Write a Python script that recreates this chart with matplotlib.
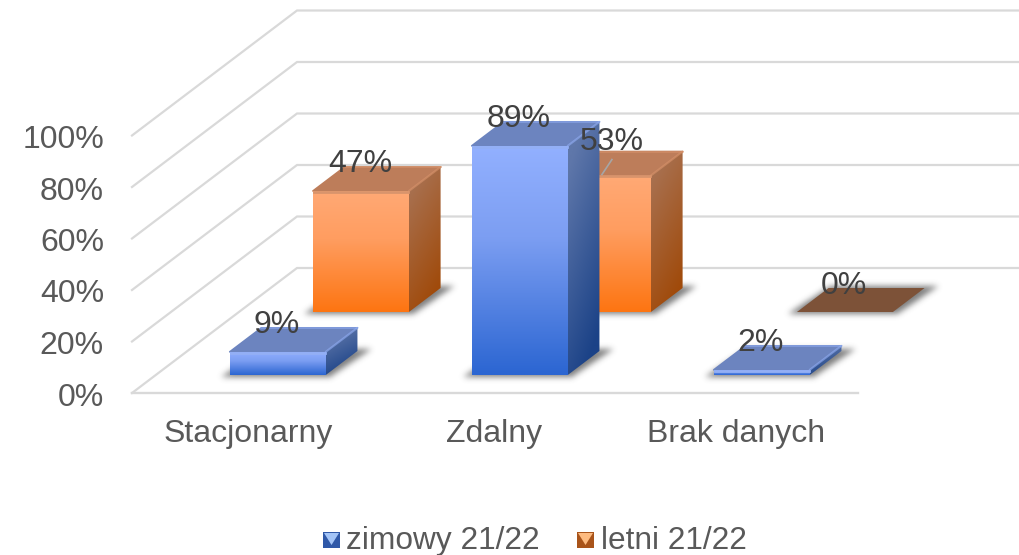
import matplotlib
matplotlib.use('Agg')
import matplotlib.pyplot as plt
from matplotlib.patches import Polygon
from matplotlib.path import Path
import numpy as np

plt.rcParams['font.family'] = ['Liberation Sans', 'DejaVu Sans']

categories = ['Stacjonarny', 'Zdalny', 'Brak danych']
zimowy = [9, 89, 2]
letni = [47, 53, 0]
series_names = ['zimowy 21/22', 'letni 21/22']
y_ticks = [0, 20, 40, 60, 80, 100]

W, H = 1019, 555

# uklad rzutu ukosnego (jak wykres 3D w Excelu), wszystko w pikselach
X0, Y0 = 132, 393
FLOOR_W = 726
DEPTH_X, DEPTH_Y = 165, 125
PX_PER_PCT = 2.575
BAR_W = 96
SLOT = FLOOR_W / len(categories)
DEPTHS = [(0.144, 0.336), (0.648, 0.84)]

GRID = '#d9d9d9'
TEXT = '#595959'
LABEL = '#404040'
FS = 23


def proj(x, d, v):
    # x - polozenie wzdluz osi, d - glebokosc 0..1, v - wartosc w %
    return X0 + x + DEPTH_X * d, Y0 - DEPTH_Y * d - PX_PER_PCT * v


def hexrgb(c):
    return np.array(matplotlib.colors.to_rgb(c))


def grad_face(ax, pts, stops, tilt=0.0, zorder=3):
    # gradient z obrazka przyciety do wielokata
    pts = np.array(pts)
    l, r = pts[:, 0].min(), pts[:, 0].max()
    t, b = pts[:, 1].min(), pts[:, 1].max()
    if b - t < 0.5:
        return
    yy, xx = np.mgrid[0:1:64j, 0:1:32j]
    g = np.clip(yy + tilt * (xx - 0.5), 0, 1)
    pos = [s[0] for s in stops]
    cols = np.array([hexrgb(s[1]) for s in stops])
    img = np.dstack([np.interp(g, pos, cols[:, k]) for k in range(3)])
    im = ax.imshow(img, extent=(l, r, b, t), aspect='auto', zorder=zorder, interpolation='bilinear')
    poly = Polygon(pts, closed=True, transform=ax.transData, fc='none', ec='none')
    ax.add_patch(poly)
    im.set_clip_path(poly)


def blur(a, sigma):
    n = int(sigma * 3)
    k = np.exp(-0.5 * (np.arange(-n, n + 1) / sigma) ** 2)
    k = k / k.sum()
    a = np.apply_along_axis(lambda m: np.convolve(m, k, mode='same'), 0, a)
    a = np.apply_along_axis(lambda m: np.convolve(m, k, mode='same'), 1, a)
    return a


styles = [
    {'front': [(0, '#92b0ff'), (0.4, '#7c9ef2'), (1, '#2c66d2')],
     'side': [(0, '#5f77aa'), (1, '#1b4287')],
     'top': '#6c84bf', 'edge': '#93aff5'},
    {'front': [(0, '#ffa975'), (0.4, '#ff9d60'), (1, '#fd7512')],
     'side': [(0, '#a8704f'), (1, '#a04a0a')],
     'top': '#bd7d5a', 'edge': '#d9946c'},
]

fig = plt.figure(figsize=(W / 100, H / 100), dpi=100)
ax = fig.add_axes([0, 0, 1, 1])
ax.set_axis_off()

# siatka: sciana tylna i boczna
for v in y_ticks:
    x1, y1 = proj(0, 0, v)
    x2, y2 = proj(0, 1, v)
    x3, y3 = proj(FLOOR_W, 1, v)
    ax.plot([x1, x2, x3], [y1, y2, y3], color=GRID, lw=1.6, zorder=1, solid_joinstyle='miter')
x1, y1 = proj(0, 0, 0)
x2, y2 = proj(FLOOR_W, 0, 0)
ax.plot([x1, x2], [y1, y2], color=GRID, lw=1.7, zorder=1)

# cienie pod slupkami
yy, xx = np.mgrid[0:H, 0:W]
grid_pts = np.column_stack([xx.ravel() + 0.5, yy.ravel() + 0.5])
mask = np.zeros((H, W))
for s, values in enumerate([zimowy, letni]):
    d0, d1 = DEPTHS[s]
    for i, v in enumerate(values):
        left = SLOT * (i + 0.5) - BAR_W / 2 + 1
        a = proj(left, d0, 0)
        b = proj(left + BAR_W, d0, 0)
        c = proj(left + BAR_W, d1, 0)
        e = proj(left, d1, 0)
        shadow = [(a[0] - 9, a[1] + 2), (b[0] + 4, b[1] + 2), (c[0] + 14, c[1] - 2), (e[0] + 2, e[1] - 2)]
        inside = Path(shadow).contains_points(grid_pts).reshape(H, W)
        mask = np.maximum(mask, inside.astype(float))
mask = blur(mask, 3.0) * 0.72
rgba = np.zeros((H, W, 4))
rgba[..., :3] = 0.3
rgba[..., 3] = mask
ax.imshow(rgba, extent=(0, W, H, 0), aspect='auto', zorder=2, interpolation='bilinear')

# slupki: najpierw szereg tylny
for s in [1, 0]:
    values = [zimowy, letni][s]
    st = styles[s]
    d0, d1 = DEPTHS[s]
    for i, v in enumerate(values):
        z = 3 + (1 - s) * 2
        left = SLOT * (i + 0.5) - BAR_W / 2 + 1
        right = left + BAR_W
        fb = proj(left, d0, 0)
        rb = proj(right, d0, 0)
        rt = proj(right, d0, v)
        ft = proj(left, d0, v)
        bb = proj(right, d1, 0)
        bt = proj(right, d1, v)
        lt = proj(left, d1, v)
        top = st['top'] if v > 0 else '#7d5238'
        # obrys z zaokragleniem daje lekko zaokraglone rogi jak w oryginale
        ax.add_patch(Polygon([ft, rt, bt, lt], closed=True, fc=top, ec=top, lw=1.2 if v > 0 else 0,
                             joinstyle='round', zorder=z))
        grad_face(ax, [ft, rt, rb, fb], st['front'], zorder=z)
        grad_face(ax, [rt, bt, bb, rb], st['side'], tilt=0.35, zorder=z)
        if v > 0:
            # jasniejsza faza na krawedziach
            ax.plot([ft[0] + 1, rt[0] - 1], [ft[1] + 0.8, rt[1] + 0.8], color=st['edge'], lw=2, zorder=z + 0.5)
            ax.plot([rt[0], bt[0]], [rt[1], bt[1]], color=st['edge'], lw=1.5, alpha=0.6, zorder=z + 0.5,
                    solid_capstyle='round')
            ax.plot([lt[0], bt[0]], [lt[1] + 0.5, bt[1] + 0.5], color=st['edge'], lw=1.2, alpha=0.6, zorder=z + 0.5,
                    solid_capstyle='round')

# etykiety danych
for s, values in enumerate([zimowy, letni]):
    d0, d1 = DEPTHS[s]
    for i, v in enumerate(values):
        left = SLOT * (i + 0.5) - BAR_W / 2
        cx = proj(left + BAR_W / 2, d0, v)[0]
        ty = proj(left, d1, v)[1]
        dx, dy = 0, -2.5
        if s == 1 and i == 1:
            # ta etykieta jest odsunieta i ma linie odniesienia
            dx, dy = 10, -9.5
            ax.plot([cx, cx + 10], [ty + 23, ty + 8], color='#a6a6a6', lw=1.2, zorder=8)
        ax.text(cx + dx, ty + dy, '%d%%' % v, fontsize=FS, color=LABEL, ha='center', va='center', zorder=9)

# os Y
for v in y_ticks:
    ax.text(104, Y0 - PX_PER_PCT * v + 4.5, '%d%%' % v, fontsize=FS, color=TEXT, ha='right', va='center')

# kategorie
cat_nudge = [-4, 0, 0]
for i, name in enumerate(categories):
    ax.text(SLOT * (i + 0.5) + X0 - 1 + cat_nudge[i], 434, name, fontsize=FS, color=TEXT, ha='center', va='center')

# legenda
legend_x = [(323, 346), (577, 601)]
legend_c = [('#2f58a8', '#a3c4f7'), ('#a9541a', '#fdbb80')]
for name, (mx, tx), (dark, light) in zip(series_names, legend_x, legend_c):
    ax.add_patch(Polygon([(mx, 532), (mx + 17, 532), (mx + 17, 548), (mx, 548)], closed=True, fc=dark, ec='none', zorder=3))
    ax.add_patch(Polygon([(mx + 1, 533), (mx + 16, 533), (mx + 8.5, 545)], closed=True, fc=light, ec='none', zorder=4))
    ax.text(tx, 541, name, fontsize=22.8, color=TEXT, ha='left', va='center')

ax.set_xlim(0, W)
ax.set_ylim(H, 0)
fig.savefig('out.png', dpi=100, facecolor='white')
